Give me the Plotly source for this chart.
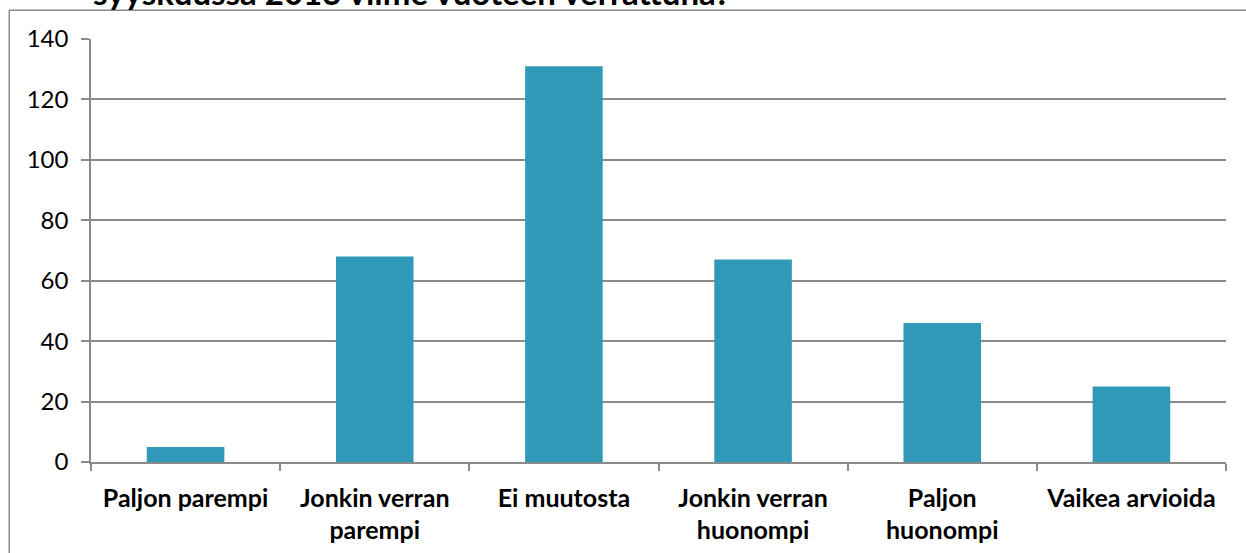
import plotly.graph_objects as go

# Vastausvaihtoehdot ja vastaajamäärät
categories = ['Paljon parempi', 'Jonkin verran<br>parempi', 'Ei muutosta',
              'Jonkin verran<br>huonompi', 'Paljon<br>huonompi', 'Vaikea arvioida']
counts = [5, 68, 131, 67, 46, 25]
y_ticks = [0, 20, 40, 60, 80, 100, 120, 140]

title_line = 'syyskuussa 2013 viime vuoteen verrattuna?'

grey = '#8a8a8a'

fig = go.Figure(go.Bar(
    x=categories, y=counts,
    marker=dict(color='#3099b8', line=dict(width=0)),
))

fig.update_layout(
    width=1246, height=553,
    margin=dict(l=91, r=20, t=39, b=91),
    paper_bgcolor='white', plot_bgcolor='white',
    font=dict(family='Lato', color='black'),
    bargap=0.59,
    showlegend=False,
)

fig.update_xaxes(
    automargin=False,
    tickson='boundaries', ticks='outside', ticklen=7, tickcolor=grey, tickwidth=1.5,
    showline=True, linecolor=grey, linewidth=1.5,
    tickfont=dict(size=25, family='Lato', color='black', weight='bold'),
    ticklabelstandoff=13,
)

fig.update_yaxes(
    automargin=False,
    range=[0, 140], tickvals=y_ticks,
    ticks='outside', ticklen=8, tickcolor=grey, tickwidth=1.5,
    showline=True, linecolor=grey, linewidth=1.5,
    showgrid=True, gridcolor=grey, gridwidth=1.5,
    tickfont=dict(size=24, family='Lato', color='black'),
    ticklabelstandoff=8,
    zeroline=False,
)

# Kaavion kehys (vain vasen ja ylä reuna näkyvät)
fig.add_shape(type='rect', xref='paper', yref='paper',
              x0=-0.072, x1=1.5, y0=-1, y1=1.068,
              line=dict(color=grey, width=1.5), layer='below')

# Otsikon alaosa näkyy kuvan yläreunassa
fig.add_annotation(text='<b>' + title_line + '</b>', xref='paper', yref='paper',
                   x=0.0, y=1, xanchor='left', yanchor='bottom', yshift=25,
                   showarrow=False, font=dict(size=33, family='Lato', color='black'))

fig.write_html('out.html', config={'displayModeBar': False},
               post_script="document.body.style.margin='0';document.body.style.overflow='hidden';")
